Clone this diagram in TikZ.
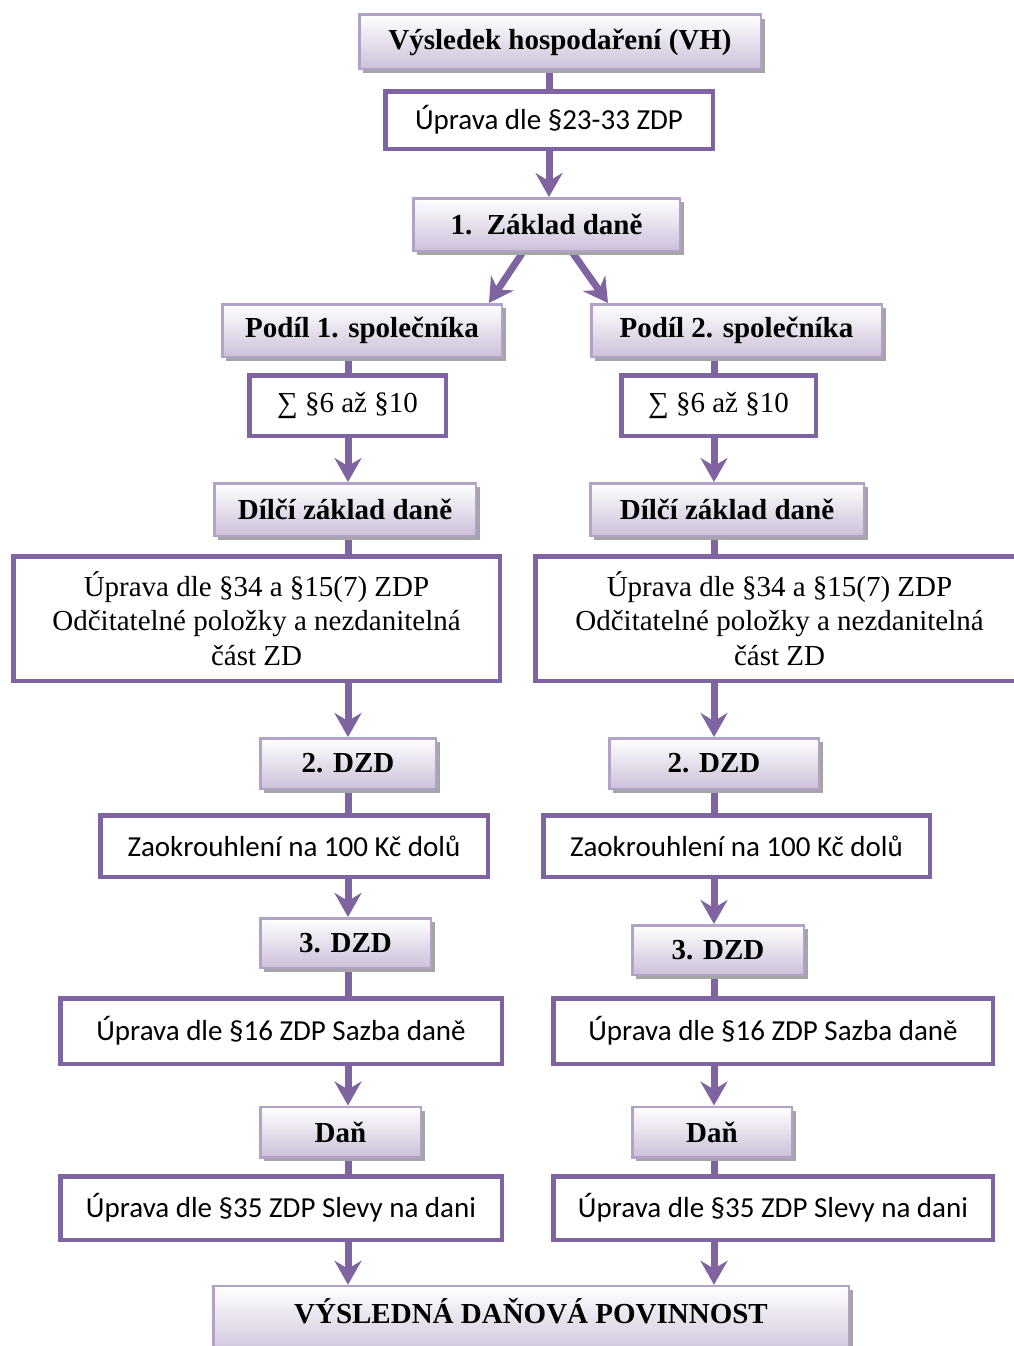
\documentclass[tikz,border=0pt]{standalone}
\usepackage{fontspec}
\setmainfont{Liberation Serif}
\newfontfamily\calib{Carlito}
\usetikzlibrary{arrows.meta,shadows}
\definecolor{vio}{HTML}{8064A2}
\definecolor{lav}{HTML}{B3A2C7}
\definecolor{lavfill}{HTML}{CCC0DA}
\definecolor{shd}{HTML}{A5A5A5}
\pgfdeclarelayer{bg}
\pgfsetlayers{bg,main}
\tikzset{
 gbox/.style={draw=lav, line width=2.5pt, top color=white, bottom color=lavfill,
   general shadow={fill=shd, shadow xshift=4pt, shadow yshift=-4pt},
   font=\fontsize{29}{34}\selectfont\bfseries, inner sep=0pt},
 wbox/.style={draw=vio, line width=4.5pt, fill=white, inner sep=0pt, align=center,
   font=\fontsize{29}{34.5}\selectfont},
 cbox/.style={wbox, font=\fontsize{29}{34.5}\selectfont\calib},
 sz/.style 2 args={minimum width=#1pt, minimum height=#2pt},
 link/.style={draw=vio, line width=7pt},
 arr/.style={link, -{Stealth[length=24pt,width=27pt,inset=8pt]}},
}
\begin{document}
\begin{tikzpicture}[x=1pt,y=-1pt]
\useasboundingbox (0,0) rectangle (1014,1346);
\clip (0,0) rectangle (1014,1346);
% gradient boxes
\node[gbox, sz={401.5}{54.5}] (vh) at (560,42) {Výsledek hospodaření (VH)};
\node[gbox, sz={266.5}{52.5}] (zd) at (546.5,224.5) {1.~~Základ daně};
\node[gbox, sz={279.5}{52.5}] (p1) at (362,330.5) {Podíl 1. společníka};
\node[gbox, sz={290.5}{52.5}] (p2) at (736.5,330.5) {Podíl 2. společníka};
\node[gbox, sz={261.5}{52.5}] (d1) at (345,509.5) {Dílčí základ daně};
\node[gbox, sz={273.5}{52.5}] (d2) at (727,509.5) {Dílčí základ daně};
\node[gbox, sz={175.5}{50.5}] (dz1) at (348,763.5) {2. DZD};
\node[gbox, sz={209.5}{50.5}] (dz2) at (714,763.5) {2. DZD};
\node[gbox, sz={170.5}{49.5}] (t1) at (345.5,943) {3. DZD};
\node[gbox, sz={171.5}{49.5}] (t2) at (718,950) {3. DZD};
\node[gbox, sz={160.5}{50.5}] (dan1) at (340.5,1132) {Daň};
\node[gbox, sz={159.5}{50.5}] (dan2) at (712,1132) {Daň};
\node[gbox, sz={635.5}{72}] (fin) at (531,1322) {\raisebox{22pt}{VÝSLEDNÁ DAŇOVÁ POVINNOST}};
% white boxes
\node[cbox, sz={327.5}{57.5}] (u1) at (549,120) {Úprava dle §23-33 ZDP};
\node[wbox, sz={196.5}{60.5}] (s1) at (347.5,405.5) {∑ §6 až §10};
\node[wbox, sz={194.5}{60.5}] (s2) at (718.5,405.5) {∑ §6 až §10};
\node[wbox, sz={486.5}{124.5}] (b1) at (256.5,618.5) {Úprava dle §34 a §15(7) ZDP\\Odčitatelné položky a nezdanitelná\\část ZD};
\node[wbox, sz={488.5}{124.5}] (b2) at (779.5,618.5) {Úprava dle §34 a §15(7) ZDP\\Odčitatelné položky a nezdanitelná\\část ZD};
\node[cbox, sz={387.5}{61.5}] (z1) at (294,846) {Zaokrouhlení na 100 Kč dolů};
\node[cbox, sz={386.5}{61.5}] (z2) at (736.5,846) {Zaokrouhlení na 100 Kč dolů};
\node[cbox, sz={441.5}{65.5}] (r1) at (281,1031) {Úprava dle §16 ZDP Sazba daně};
\node[cbox, sz={439.5}{65.5}] (r2) at (773,1031) {Úprava dle §16 ZDP Sazba daně};
\node[cbox, sz={441.5}{63.5}] (sl1) at (281,1208) {Úprava dle §35 ZDP Slevy na dani};
\node[cbox, sz={439.5}{63.5}] (sl2) at (773,1208) {Úprava dle §35 ZDP Slevy na dani};
\coordinate (C) at (549,0);
\coordinate (L) at (348,0);
\coordinate (R) at (714,0);
\begin{pgfonlayer}{bg}
\draw[link] (vh.south -| C) -- (u1.north -| C);
\draw[arr] (u1.south -| C) -- (zd.north -| C);
\draw[arr] ([xshift=-23.5pt]zd.south) -- ([xshift=127pt]p1.north);
\draw[arr] ([xshift=25.5pt]zd.south) -- ([xshift=-128.5pt]p2.north);
% left column
\draw[link] (p1.south -| L) -- (s1.north -| L);
\draw[arr] (s1.south -| L) -- (d1.north -| L);
\draw[link] (d1.south -| L) -- (b1.north -| L);
\draw[arr] (b1.south -| L) -- (dz1.north -| L);
\draw[link] (dz1.south -| L) -- (z1.north -| L);
\draw[arr] (z1.south -| L) -- (t1.north -| L);
\draw[link] (t1.south -| L) -- (r1.north -| L);
\draw[arr] (r1.south -| L) -- (dan1.north -| L);
\draw[link] (dan1.south -| L) -- (sl1.north -| L);
\draw[arr] (sl1.south -| L) -- (fin.north -| L);
% right column
\draw[link] (p2.south -| R) -- (s2.north -| R);
\draw[arr] (s2.south -| R) -- (d2.north -| R);
\draw[link] (d2.south -| R) -- (b2.north -| R);
\draw[arr] (b2.south -| R) -- (dz2.north -| R);
\draw[link] (dz2.south -| R) -- (z2.north -| R);
\draw[arr] (z2.south -| R) -- (t2.north -| R);
\draw[link] (t2.south -| R) -- (r2.north -| R);
\draw[arr] (r2.south -| R) -- (dan2.north -| R);
\draw[link] (dan2.south -| R) -- (sl2.north -| R);
\draw[arr] (sl2.south -| R) -- (fin.north -| R);
\end{pgfonlayer}
\end{tikzpicture}
\end{document}
